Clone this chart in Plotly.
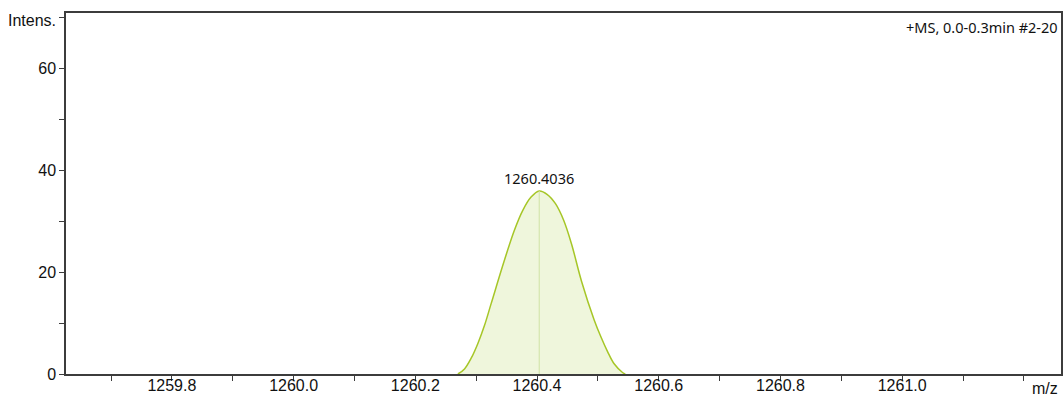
import plotly.graph_objects as go

# Profile of the isotope peak (m/z, intensity)
mz = [1260.2700, 1260.2808, 1260.2918, 1260.3028, 1260.3136, 1260.3246,
      1260.3464, 1260.3628, 1260.3766, 1260.3902, 1260.4036, 1260.4170,
      1260.4303, 1260.4436, 1260.4567, 1260.4731, 1260.4939, 1260.5049,
      1260.5159, 1260.5267, 1260.5405, 1260.5450]
intensity = [0.0, 1.0, 3.1, 6.0, 9.5, 13.8,
             22.3, 28.2, 32.1, 34.7, 35.9, 35.2,
             33.4, 30.2, 25.5, 18.2, 10.6, 7.3,
             4.4, 2.0, 0.3, 0.0]

peak_mz = 1260.4036
peak_int = 35.9
spectrum_title = "+MS, 0.0-0.3min #2-20"

x_ticks = [1259.8, 1260.0, 1260.2, 1260.4, 1260.6, 1260.8, 1261.0]
y_ticks = [0, 20, 40, 60]

axis_color = "#3c3c3c"
tick_font = dict(family="Liberation Sans, Arial, sans-serif", size=16, color="#111111")
label_font = dict(family="Noto Sans, Open Sans, sans-serif", size=14.5, color="#111111")

fig = go.Figure()

fig.add_trace(go.Scatter(
    x=mz, y=intensity, mode="lines",
    line=dict(color="#a6c627", width=1.5, shape="spline", smoothing=1.0),
    fill="tozeroy", fillcolor="rgba(236,244,214,0.85)",
    hoverinfo="skip", showlegend=False,
))

# centroid marker line
fig.add_trace(go.Scatter(
    x=[peak_mz, peak_mz], y=[0, peak_int], mode="lines",
    line=dict(color="#cfe2a6", width=1),
    hoverinfo="skip", showlegend=False,
))

fig.add_annotation(x=peak_mz, y=peak_int, text=f"{peak_mz:.4f}",
                   showarrow=False, yanchor="bottom", yshift=1,
                   font=label_font)

fig.add_annotation(xref="paper", yref="paper", x=1, y=1, xshift=-1, yshift=-2,
                   xanchor="right", yanchor="top", text=spectrum_title,
                   showarrow=False, font=label_font)

fig.add_annotation(xref="paper", yref="paper", x=0, y=1, xshift=-8, yshift=-7,
                   xanchor="right", yanchor="middle", text="Intens.",
                   showarrow=False, font=tick_font)

fig.add_annotation(xref="paper", yref="paper", x=1, y=0, xshift=-1, yshift=-14,
                   xanchor="right", yanchor="middle", text="m/z",
                   showarrow=False, font=tick_font)

fig.update_xaxes(
    range=[1259.626, 1261.261], automargin=False,
    tickvals=x_ticks, ticktext=[f"{v:.1f}" for v in x_ticks],
    ticks="outside", ticklen=5, tickwidth=1, tickcolor=axis_color,
    ticklabelstandoff=-9,
    minor=dict(dtick=0.1, tick0=1259.8, ticks="outside", ticklen=5,
               tickwidth=1, tickcolor=axis_color),
    showline=True, linecolor=axis_color, linewidth=1.5, mirror=True,
    showgrid=False, zeroline=False, tickfont=tick_font,
)
fig.update_yaxes(
    range=[0, 70.8], automargin=False,
    tickvals=y_ticks,
    ticks="outside", ticklen=5, tickwidth=1, tickcolor=axis_color,
    minor=dict(dtick=10, tick0=0, ticks="outside", ticklen=5,
               tickwidth=1, tickcolor=axis_color),
    showline=True, linecolor=axis_color, linewidth=1.5, mirror=True,
    showgrid=False, zeroline=False, tickfont=tick_font,
)

fig.update_layout(
    width=1064, height=396,
    margin=dict(l=66, r=3, t=13, b=22, pad=0),
    paper_bgcolor="white", plot_bgcolor="white",
)

fig.write_html("out.html")
